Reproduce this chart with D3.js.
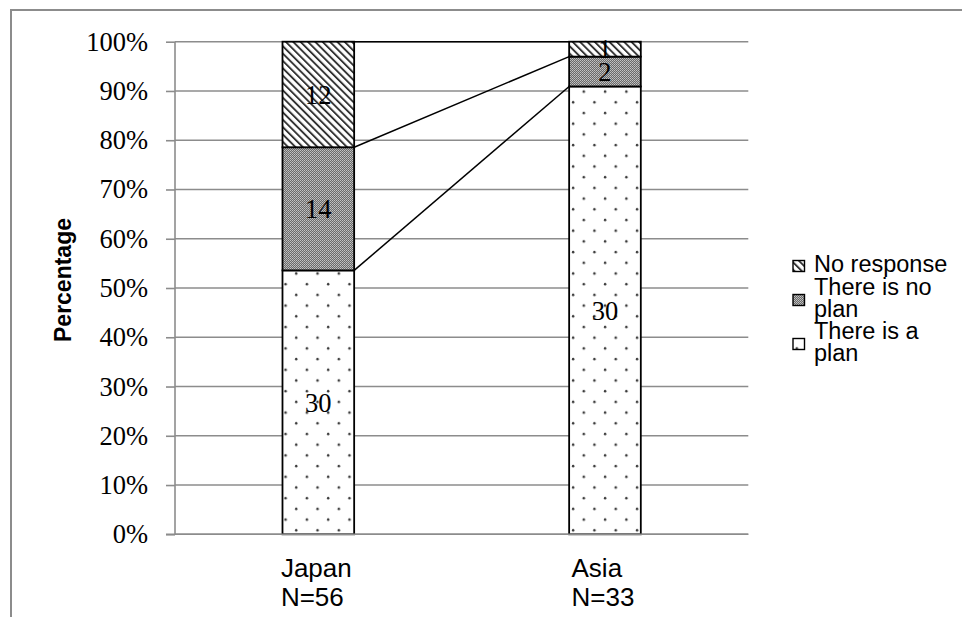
<!DOCTYPE html>
<html>
<head>
<meta charset="utf-8">
<script src="https://cdn.jsdelivr.net/npm/d3@7/dist/d3.min.js"></script>
<style>
  html, body { margin: 0; padding: 0; background: #fff; }
  svg { display: block; }
</style>
</head>
<body>
<svg id="chart" width="962" height="617"></svg>
<script>
// ---- data ----
const categories = ["Japan", "Asia"];
const sampleSizes = ["N=56", "N=33"];
const seriesKeys = ["plan", "noPlan", "noResponse"];
const seriesNames = ["There is a plan", "There is no plan", "No response"];
const planCounts = [30, 30];
const noPlanCounts = [14, 2];
const noResponseCounts = [12, 1];
const yTickValues = [0, 0.1, 0.2, 0.3, 0.4, 0.5, 0.6, 0.7, 0.8, 0.9, 1.0];

const rows = categories.map((c, i) => ({
  cat: c, n: sampleSizes[i],
  plan: planCounts[i], noPlan: noPlanCounts[i], noResponse: noResponseCounts[i]
}));

const svg = d3.select("#chart");
const W = 962, H = 617;
const plot = { left: 175, right: 748.3, top: 41.7, bottom: 534.3 };

const grey = "#8c8c8c";

// ---- patterns ----
const defs = svg.append("defs");
// dots
const pd = defs.append("pattern").attr("id", "pDots").attr("patternUnits", "userSpaceOnUse")
  .attr("width", 21.3).attr("height", 21.4).attr("x", 3.7).attr("y", 1);
pd.append("rect").attr("width", 21.3).attr("height", 21.4).attr("fill", "#fff");
pd.append("circle").attr("cx", 5).attr("cy", 5).attr("r", 1.25).attr("fill", "#3a3a3a");
pd.append("circle").attr("cx", 15.65).attr("cy", 15.7).attr("r", 1.25).attr("fill", "#3a3a3a");
// checker
const pc = defs.append("pattern").attr("id", "pCheck").attr("patternUnits", "userSpaceOnUse")
  .attr("width", 2).attr("height", 2);
pc.append("rect").attr("width", 2).attr("height", 2).attr("fill", "#6a6a6a");
pc.append("rect").attr("width", 1).attr("height", 1).attr("fill", "#c4c4c4");
pc.append("rect").attr("x", 1).attr("y", 1).attr("width", 1).attr("height", 1).attr("fill", "#b0b0b0");
// diagonal hatch "\"
const ph = defs.append("pattern").attr("id", "pHatch").attr("patternUnits", "userSpaceOnUse")
  .attr("width", 5.2).attr("height", 10).attr("patternTransform", "rotate(-45)");
ph.append("rect").attr("width", 5.2).attr("height", 10).attr("fill", "#fff");
ph.append("rect").attr("width", 1.9).attr("height", 10).attr("fill", "#333");

const fills = { plan: "url(#pDots)", noPlan: "url(#pCheck)", noResponse: "url(#pHatch)" };

// ---- outer border ----
svg.append("path").attr("d", `M11,${H} V10 H${W}`).attr("fill", "none")
  .attr("stroke", grey).attr("stroke-width", 2);

// ---- scales ----
const xBand = d3.scaleBand().domain(categories).range([plot.left, plot.right]).padding(0);
const barW = xBand.bandwidth() * 0.25;
const barX = c => xBand(c) + (xBand.bandwidth() - barW) / 2;
const y = d3.scaleLinear().domain([0, 1]).range([plot.bottom, plot.top]);

// ---- grid ----
svg.append("g").selectAll("line").data(yTickValues).join("line")
  .attr("x1", plot.left).attr("x2", plot.right)
  .attr("y1", d => y(d)).attr("y2", d => y(d))
  .attr("stroke", grey).attr("stroke-width", 1.6);

// ---- y axis ----
const yAxis = d3.axisLeft(y).tickValues(yTickValues).tickFormat(d3.format(".0%"))
  .tickSize(9).tickPadding(18);
const gy = svg.append("g").attr("transform", `translate(${plot.left},0)`).call(yAxis);
gy.select(".domain").attr("stroke", grey).attr("stroke-width", 1.6).attr("d", `M0,${plot.top}V${plot.bottom}`);
gy.selectAll(".tick line").attr("stroke", grey).attr("stroke-width", 1.6);
gy.selectAll(".tick text").attr("font-family", "'Liberation Serif', serif")
  .attr("font-size", 26.5).attr("fill", "#000");

// ---- stack ----
const stack = d3.stack().keys(seriesKeys).offset(d3.stackOffsetExpand);
const stacked = stack(rows);

// connector lines
const jIdx = 0, aIdx = 1;
const connLevels = stacked.map(s => [s[jIdx][1], s[aIdx][1]]);
svg.append("g").selectAll("line").data(connLevels).join("line")
  .attr("x1", barX(categories[0]) + barW).attr("x2", barX(categories[1]))
  .attr("y1", d => y(d[0])).attr("y2", d => y(d[1]))
  .attr("stroke", "#000").attr("stroke-width", 1.5);

// bars
const gBars = svg.append("g");
stacked.forEach(s => {
  gBars.append("g").selectAll("rect").data(s).join("rect")
    .attr("x", d => barX(d.data.cat)).attr("width", barW)
    .attr("y", d => y(d[1])).attr("height", d => y(d[0]) - y(d[1]))
    .attr("fill", fills[s.key]).attr("stroke", "#000").attr("stroke-width", 1.8);
});

// segment labels
stacked.forEach(s => {
  gBars.append("g").selectAll("text").data(s).join("text")
    .attr("x", d => barX(d.data.cat) + barW / 2)
    .attr("y", d => y((d[0] + d[1]) / 2))
    .attr("dy", "0.35em").attr("text-anchor", "middle")
    .attr("font-family", "'Liberation Serif', serif").attr("font-size", 26.5)
    .attr("fill", "#000")
    .text(d => d.data[s.key]);
});

// bottom axis line
svg.append("line").attr("x1", plot.left - 9).attr("x2", plot.right)
  .attr("y1", plot.bottom).attr("y2", plot.bottom)
  .attr("stroke", grey).attr("stroke-width", 1.6);

// category labels (left-aligned block, centered)
rows.forEach((r, i) => {
  const g = svg.append("g");
  const t1 = g.append("text").attr("y", 577).text(r.cat);
  const t2 = g.append("text").attr("y", 606).text(r.n);
  g.selectAll("text").attr("font-family", "'Liberation Sans', Arial, sans-serif")
    .attr("font-size", 26).attr("fill", "#000");
  const w = Math.max(t1.node().getComputedTextLength(), t2.node().getComputedTextLength());
  const cx = xBand(r.cat) + xBand.bandwidth() / 2 - 2;
  g.selectAll("text").attr("x", cx - w / 2);
});

// y title
svg.append("text")
  .attr("transform", "translate(71,280) rotate(-90)")
  .attr("text-anchor", "middle")
  .attr("font-family", "'Liberation Sans', Arial, sans-serif")
  .attr("font-weight", "bold").attr("font-size", 23).attr("fill", "#000")
  .text("Percentage");

// legend
const legendItems = [
  { key: "noResponse", lines: ["No response"], y: 264 },
  { key: "noPlan", lines: ["There is no", "plan"], y: 298 },
  { key: "plan", lines: ["There is a", "plan"], y: 342 }
];
const gl = svg.append("g");
legendItems.forEach(it => {
  gl.append("rect").attr("x", 793).attr("y", it.y + 2 - 5.5).attr("width", 11.5).attr("height", 11)
    .attr("fill", fills[it.key]).attr("stroke", "#000").attr("stroke-width", 1.4);
  const n = it.lines.length;
  it.lines.forEach((ln, j) => {
    gl.append("text").attr("x", 814)
      .attr("y", it.y + (j - (n - 1) / 2) * 22.5)
      .attr("dy", "0.35em")
      .attr("font-family", "'Liberation Sans', Arial, sans-serif")
      .attr("font-size", 23.5).attr("fill", "#000").text(ln);
  });
});
</script>
</body>
</html>
